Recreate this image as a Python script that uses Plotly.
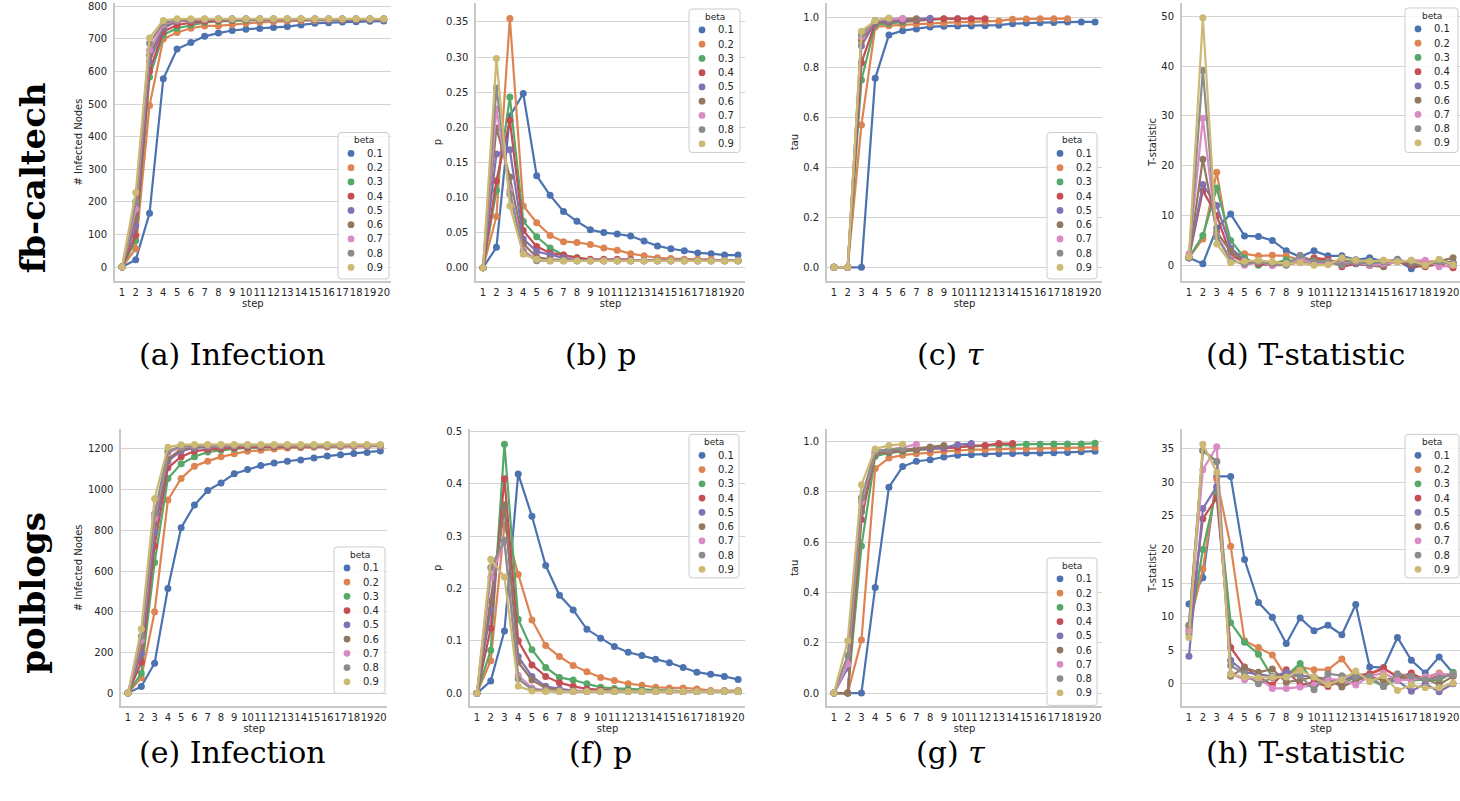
import plotly.graph_objects as go

# ---------------- data ----------------
STEPS = [1, 2, 3, 4, 5, 6, 7, 8, 9, 10, 11, 12, 13, 14, 15, 16, 17, 18, 19, 20]
STEP_LABELS = ["1", "2", "3", "4", "5", "6", "7", "8", "9", "10", "11", "12", "13", "14", "15", "16", "17", "18", "19", "20"]
BETAS = ["0.1", "0.2", "0.3", "0.4", "0.5", "0.6", "0.7", "0.8", "0.9"]
N = None

CALTECH_INFECTION = [
    [0, 22, 165, 578, 669, 689, 708, 718, 726, 730, 732, 735, 738, 743, 748, 750, 752, 753, 754, 755],
    [0, 56, 496, 700, 720, 733, 740, 740, 744, 748, 751, 753, 755, 756, 757, 758, 758, 759, 759, 759],
    [0, 81, 583, 713, 733, 743, 751, 754, 756, 757, 758, 759, 759, 760, 760, 760, 760, 760, 760, 760],
    [0, 97, 601, 723, 743, 750, 754, 757, 758, 759, 760, 760, 760, 760, 760, 760, 760, 760, 760, 760],
    [0, 127, 631, 733, 754, 757, 759, 760, 761, 761, 761, 761, 761, 761, 761, 761, 761, 761, 761, 761],
    [0, 150, 650, 740, 755, 758, 760, 761, 761, 761, 761, 761, 761, 761, 761, 761, 761, 761, 761, 761],
    [0, 178, 665, 745, 757, 759, 760, 761, 761, 761, 761, 761, 761, 761, 761, 761, 761, 761, 761, 761],
    [0, 200, 687, 750, 758, 760, 761, 761, 761, 761, 761, 761, 761, 761, 761, 761, 761, 761, 761, 761],
    [0, 229, 703, 757, 762, 762, 762, 762, 762, 762, 762, 762, 762, 762, 762, 762, 762, 762, 762, 762],
]

CALTECH_P = [
    [0.0, 0.029, 0.216, 0.248, 0.131, 0.103, 0.080, 0.066, 0.054, 0.050, 0.048, 0.045, 0.038, 0.031, 0.027, 0.024, 0.021, 0.020, 0.018, 0.018],
    [0.0, 0.073, 0.355, 0.088, 0.064, 0.046, 0.037, 0.036, 0.033, 0.028, 0.025, 0.020, 0.017, 0.014, 0.013, 0.012, 0.012, 0.012, N, N],
    [0.0, 0.110, 0.243, 0.066, 0.044, 0.028, 0.018, 0.014, 0.011, 0.010, 0.010, 0.010, 0.010, 0.010, 0.010, 0.010, 0.010, 0.010, 0.010, 0.010],
    [0.0, 0.124, 0.210, 0.053, 0.030, 0.021, 0.018, 0.014, 0.012, 0.012, 0.012, 0.012, N, N, N, N, N, N, N, N],
    [0.0, 0.162, 0.168, 0.041, 0.023, 0.018, 0.014, 0.010, 0.010, 0.010, 0.010, 0.010, 0.010, 0.010, 0.010, 0.010, 0.010, 0.010, 0.010, 0.010],
    [0.0, 0.199, 0.129, 0.034, 0.015, 0.012, 0.011, 0.010, 0.010, 0.010, 0.010, 0.010, 0.010, 0.010, 0.010, 0.010, 0.010, 0.010, 0.010, 0.010],
    [0.0, 0.226, 0.110, 0.025, 0.011, 0.010, 0.010, 0.010, 0.010, 0.010, 0.010, 0.010, 0.010, 0.010, 0.010, 0.010, 0.010, 0.010, 0.010, 0.010],
    [0.0, 0.256, 0.105, 0.022, 0.010, 0.010, 0.010, 0.010, 0.010, 0.010, 0.010, 0.010, 0.010, 0.010, 0.010, 0.010, 0.010, 0.010, 0.010, 0.010],
    [0.0, 0.298, 0.088, 0.019, 0.012, 0.0095, 0.0095, 0.0095, 0.0095, 0.0095, 0.0095, 0.0095, 0.0095, 0.0095, 0.0095, 0.0095, 0.0095, 0.0095, 0.0095, 0.0095],
]

CALTECH_TAU = [
    [0, 0, 0, 0.758, 0.932, 0.949, 0.956, 0.964, 0.967, 0.968, 0.968, 0.969, 0.971, 0.977, 0.980, 0.981, 0.982, 0.984, 0.984, 0.984],
    [0, 0, 0.571, 0.964, 0.969, 0.972, 0.976, 0.977, 0.980, 0.983, 0.984, 0.985, 0.988, 0.995, 0.996, 0.997, 0.997, 0.997, N, N],
    [0, 0, 0.751, 0.973, 0.978, 0.983, 0.990, 0.993, 0.996, 0.997, N, N, N, N, N, N, N, N, N, N],
    [0, 0, 0.820, 0.980, 0.985, 0.988, 0.990, 0.993, 0.997, 0.997, 0.997, 0.997, N, N, N, N, N, N, N, N],
    [0, 0, 0.889, 0.983, 0.988, 0.992, 0.995, 0.999, N, N, N, N, N, N, N, N, N, N, N, N],
    [0, 0, 0.910, 0.988, 0.993, 0.997, 0.997, N, N, N, N, N, N, N, N, N, N, N, N, N],
    [0, 0, 0.925, 0.990, 0.996, 0.998, N, N, N, N, N, N, N, N, N, N, N, N, N, N],
    [0, 0, 0.935, 0.990, 0.998, N, N, N, N, N, N, N, N, N, N, N, N, N, N, N],
    [0, 0, 0.947, 0.989, 1.000, N, N, N, N, N, N, N, N, N, N, N, N, N, N, N],
]

CALTECH_T = [
    [1.5, 0.3, 7.5, 10.3, 5.9, 5.8, 5.0, 2.9, 1.7, 2.9, 1.9, 1.9, 1.1, 1.5, 0.8, 1.0, -0.7, 0.3, 1.0, 0.5],
    [1.5, 5.3, 18.7, 2.3, 2.3, 1.9, 2.0, 1.9, 1.0, 1.3, 1.0, 0.7, 1.0, 0.7, 1.0, 0.9, 0.8, 0.7, 0.9, 0.3],
    [1.5, 6.0, 15.5, 5.0, 1.5, 0.0, 0.3, 1.1, 0.7, 0.3, 0.3, 0.7, 1.0, 0.3, 0.7, 0.7, 0.3, 0.0, 1.0, -0.1],
    [1.5, 15.0, 10.0, 2.0, 0.7, 0.3, 0.0, 0.1, 0.7, 1.5, 1.2, -0.3, 0.3, 0.0, 0.5, 0.8, 0.0, -0.3, 0.3, -0.5],
    [1.5, 16.2, 12.0, 3.5, 1.0, 0.7, 0.3, 0.3, 1.2, 0.7, 0.5, 0.8, 0.3, 0.0, 0.5, 1.2, 0.3, 0.0, 0.8, 0.5],
    [1.5, 21.3, 6.7, 2.8, 0.7, 0.8, 0.3, 0.3, 0.7, 1.0, 0.7, 0.7, 0.5, 0.0, -0.3, 1.0, 0.3, -0.1, 0.8, 1.5],
    [2.3, 29.5, 6.0, 1.3, 0.0, 0.7, 0.0, 0.3, 1.3, 0.3, 0.7, 0.3, 0.7, 0.0, 0.3, 0.7, 1.0, 1.0, -0.3, 0.0],
    [1.5, 39.1, 5.7, 1.0, 0.3, 0.7, 0.3, 0.0, 2.0, 0.7, 0.7, 0.0, 0.7, 0.3, 0.7, 1.0, 0.7, 0.0, 0.7, 0.3],
    [1.7, 49.7, 4.3, 0.5, 0.8, 1.0, 0.7, 0.3, 0.5, 0.0, 0.1, 1.5, 1.0, 0.8, 1.0, 0.7, 1.0, 0.0, 1.2, 0.1],
]

POLBLOGS_INFECTION = [
    [0, 33, 147, 514, 813, 924, 996, 1033, 1078, 1099, 1118, 1131, 1140, 1146, 1156, 1165, 1172, 1178, 1183, 1190],
    [0, 75, 400, 949, 1055, 1115, 1140, 1161, 1176, 1189, 1193, 1200, 1205, 1206, 1208, 1210, 1211, 1212, 1213, 1214],
    [0, 98, 642, 1055, 1127, 1162, 1185, 1193, 1200, 1205, 1208, 1210, 1211, 1212, 1213, 1214, 1215, 1215, 1216, 1216],
    [0, 152, 723, 1107, 1162, 1189, 1197, 1202, 1206, 1208, 1210, 1211, 1212, 1213, 1214, 1215, 1215, 1216, 1216, 1216],
    [0, 195, 790, 1140, 1190, 1205, 1210, 1213, 1215, 1216, 1216, 1216, 1216, 1216, 1216, 1216, 1216, 1216, 1216, 1216],
    [0, 230, 830, 1150, 1200, 1210, 1213, 1215, 1216, 1216, 1216, 1216, 1216, 1216, 1216, 1216, 1216, 1216, 1216, 1216],
    [0, 258, 860, 1180, 1210, 1215, 1217, 1217, 1217, 1217, 1217, 1217, 1217, 1217, 1217, 1217, 1217, 1217, 1217, 1217],
    [0, 280, 880, 1190, 1213, 1216, 1218, 1218, 1218, 1218, 1218, 1218, 1218, 1218, 1218, 1218, 1218, 1218, 1218, 1218],
    [0, 315, 955, 1208, 1221, 1222, 1222, 1222, 1222, 1222, 1222, 1222, 1222, 1222, 1222, 1222, 1222, 1222, 1222, 1222],
]

POLBLOGS_P = [
    [0.0, 0.023, 0.119, 0.419, 0.338, 0.244, 0.187, 0.159, 0.122, 0.105, 0.089, 0.078, 0.072, 0.065, 0.058, 0.049, 0.040, 0.036, 0.032, 0.026],
    [0.0, 0.062, 0.322, 0.227, 0.140, 0.091, 0.070, 0.053, 0.041, 0.030, 0.024, 0.018, 0.015, 0.011, 0.010, 0.010, 0.008, 0.005, 0.005, 0.005],
    [0.0, 0.082, 0.476, 0.141, 0.083, 0.049, 0.030, 0.025, 0.018, 0.011, 0.009, 0.008, 0.006, 0.005, 0.004, 0.003, 0.003, 0.003, 0.003, 0.003],
    [0.0, 0.124, 0.410, 0.100, 0.054, 0.032, 0.020, 0.013, 0.008, 0.006, 0.005, 0.004, 0.004, 0.003, 0.003, 0.003, 0.003, 0.003, 0.003, 0.003],
    [0.0, 0.159, 0.357, 0.070, 0.032, 0.013, 0.008, 0.005, 0.004, 0.003, 0.003, 0.003, 0.003, 0.003, 0.003, 0.003, 0.003, 0.003, 0.003, 0.003],
    [0.0, 0.176, 0.360, 0.059, 0.025, 0.010, 0.005, 0.004, 0.003, 0.003, 0.003, 0.003, 0.003, 0.003, 0.003, 0.003, 0.003, 0.003, 0.003, 0.003],
    [0.0, 0.221, 0.290, 0.034, 0.010, 0.005, 0.004, 0.003, 0.003, 0.003, 0.003, 0.003, 0.003, 0.003, 0.003, 0.003, 0.003, 0.003, 0.003, 0.003],
    [0.0, 0.240, 0.292, 0.027, 0.007, 0.004, 0.003, 0.003, 0.003, 0.003, 0.003, 0.003, 0.003, 0.003, 0.003, 0.003, 0.003, 0.003, 0.003, 0.003],
    [0.0, 0.256, 0.222, 0.013, 0.004, 0.003, 0.003, 0.003, 0.003, 0.003, 0.003, 0.003, 0.003, 0.003, 0.003, 0.003, 0.003, 0.003, 0.003, 0.003],
]

POLBLOGS_TAU = [
    [0, 0, 0, 0.420, 0.818, 0.900, 0.921, 0.927, 0.938, 0.945, 0.947, 0.951, 0.951, 0.952, 0.954, 0.954, 0.955, 0.956, 0.959, 0.961],
    [0, 0, 0.211, 0.892, 0.934, 0.945, 0.951, 0.954, 0.960, 0.963, 0.967, 0.967, 0.970, 0.971, 0.971, 0.972, 0.974, 0.974, 0.974, 0.976],
    [0, 0, 0.584, 0.941, 0.954, 0.960, 0.966, 0.970, 0.974, 0.978, 0.980, 0.983, 0.985, 0.985, 0.989, 0.989, 0.990, 0.990, 0.990, 0.992],
    [0, 0, 0.690, 0.950, 0.958, 0.964, 0.968, 0.970, 0.973, 0.976, 0.983, 0.984, 0.991, 0.991, N, N, N, N, N, N],
    [0, 0.10, 0.720, 0.955, 0.960, 0.965, 0.970, 0.972, 0.975, 0.987, 0.991, N, N, N, N, N, N, N, N, N],
    [0, 0, 0.723, 0.950, 0.960, 0.966, 0.971, 0.978, 0.984, N, N, N, N, N, N, N, N, N, N, N],
    [0, 0.116, 0.760, 0.960, 0.967, 0.975, 0.989, N, N, N, N, N, N, N, N, N, N, N, N, N],
    [0, 0.149, 0.776, 0.962, 0.968, 0.972, N, N, N, N, N, N, N, N, N, N, N, N, N, N],
    [0, 0.208, 0.828, 0.970, 0.984, 0.989, N, N, N, N, N, N, N, N, N, N, N, N, N, N],
]

POLBLOGS_T = [
    [11.9, 15.8, 30.9, 30.9, 18.5, 12.1, 9.9, 6.0, 9.8, 7.9, 8.7, 7.3, 11.8, 2.5, 2.4, 6.9, 3.5, 1.6, 4.0, 1.6],
    [8.5, 17.1, 30.5, 20.5, 6.4, 5.4, 4.3, 1.0, 2.5, 2.1, 2.1, 3.7, 1.0, 1.4, 2.2, 1.2, 1.0, 1.0, 1.6, 1.2],
    [7.4, 20.0, 29.2, 9.1, 6.2, 4.4, 1.0, 1.2, 3.0, 0.2, 0.5, 0.0, 1.0, 0.7, -0.4, 0.7, 0.5, 0.6, 0.5, 1.7],
    [7.9, 24.6, 27.7, 5.4, 2.5, 1.0, -0.2, 2.1, -0.2, 0.2, -0.4, 0.5, 1.2, 1.5, 2.4, 0.9, 1.6, 0.5, 1.2, 1.2],
    [4.1, 26.1, 29.4, 3.5, 1.7, 1.4, 1.1, 1.7, 1.2, 1.0, 0.2, 0.7, 1.0, 1.0, 0.6, 0.5, -1.1, 0.0, -1.2, 0.0],
    [8.7, 34.7, 33.1, 1.1, 2.4, 1.7, 2.2, 0.2, 0.6, 1.0, 0.7, -0.5, 0.5, 1.0, 0.5, 1.0, 0.7, 0.7, -0.1, 1.1],
    [7.9, 31.9, 35.3, 1.5, 0.6, 0.9, -0.7, -0.7, -0.5, -0.2, 0.7, 0.6, -0.2, 1.1, 1.6, 0.5, 0.6, 1.0, 1.4, 1.4],
    [8.7, 34.8, 33.1, 2.7, 1.5, 0.0, 0.9, 1.0, 1.2, -0.9, 1.5, 1.2, 1.1, 1.1, -0.4, 1.5, 1.1, 0.6, 0.9, 1.4],
    [6.9, 35.7, 31.5, 1.4, 1.0, 0.9, 1.0, 1.0, 2.0, 1.0, -0.1, 0.6, 1.9, 0.3, 1.2, -1.0, -0.2, -0.6, -0.6, 0.1],
]

Y_TITLES = ["# Infected Nodes", "p", "tau", "T-statistic", "# Infected Nodes", "p", "tau", "T-statistic"]
CAPTIONS = ["(a) Infection", "(b) p", "(c) <i>τ</i>", "(d) T-statistic",
            "(e) Infection", "(f) p", "(g) <i>τ</i>", "(h) T-statistic"]
ROW_LABELS = ["fb-caltech", "polblogs"]

# ---------------- style / layout ----------------
W, H = 1460, 801
COLORS = ["#4C72B0", "#DD8452", "#55A868", "#C44E52", "#8172B3",
          "#937860", "#DA8BC3", "#8C8C8C", "#CCB974"]
GRID = "#d3d3d3"
SPINE = "#c8c8c8"
TXT = "#262626"
FONT = "DejaVu Sans"
SERIF = "DejaVu Serif"

PANELS = [
    dict(data=CALTECH_INFECTION, x=(115.1, 390.6), y=(0, 279), yr=(-42.8, 810.4),
         ticks=[0, 100, 200, 300, 400, 500, 600, 700, 800], fmt="d", leg=(338, 130, 51, 147), cap=(232, 353)),
    dict(data=CALTECH_P, x=(476.3, 744.7), y=(0, 279), yr=(-0.0189, 0.377),
         ticks=[0, 0.05, 0.10, 0.15, 0.20, 0.25, 0.30, 0.35], fmt=".2f", leg=(689, 6, 51, 144), cap=(600, 353)),
    dict(data=CALTECH_TAU, x=(827.1, 1101.9), y=(0, 279), yr=(-0.0547, 1.06),
         ticks=[0, 0.2, 0.4, 0.6, 0.8, 1.0], fmt=".1f", leg=(1047, 130, 50, 147), cap=(950, 353)),
    dict(data=CALTECH_T, x=(1182.0, 1460.0), y=(0, 279), yr=(-3.14, 52.66),
         ticks=[0, 10, 20, 30, 40, 50], fmt="d", leg=(1405, 5, 53, 145), cap=(1305, 353)),
    dict(data=POLBLOGS_INFECTION, x=(121.4, 387.0), y=(428, 706), yr=(-65.1, 1296),
         ticks=[0, 200, 400, 600, 800, 1000, 1200], fmt="d", leg=(334, 546, 51, 147), cap=(232, 752)),
    dict(data=POLBLOGS_P, x=(470.1, 745.0), y=(428, 706), yr=(-0.0253, 0.5042),
         ticks=[0, 0.1, 0.2, 0.3, 0.4, 0.5], fmt=".1f", leg=(689, 433, 50, 144), cap=(600, 752)),
    dict(data=POLBLOGS_TAU, x=(827.1, 1101.9), y=(428, 706), yr=(-0.0526, 1.0475),
         ticks=[0, 0.2, 0.4, 0.6, 0.8, 1.0], fmt=".1f", leg=(1047, 557, 50, 148), cap=(950, 752)),
    dict(data=POLBLOGS_T, x=(1182.0, 1460.0), y=(428, 706), yr=(-3.37, 37.9),
         ticks=[0, 5, 10, 15, 20, 25, 30, 35], fmt="d", leg=(1405, 433, 54, 144), cap=(1305, 752)),
]


def px(xp):
    return xp / W


def py(yp):
    return 1 - yp / H


fig = go.Figure()
shapes = []
annotations = []

for i, p in enumerate(PANELS):
    k = "" if i == 0 else str(i + 1)
    xa, ya = "x" + k, "y" + k
    for j, series in enumerate(p["data"]):
        fig.add_trace(go.Scatter(
            x=STEPS, y=series, mode="lines+markers", name=BETAS[j],
            line=dict(color=COLORS[j], width=2.2),
            marker=dict(color=COLORS[j], size=7),
            xaxis=xa, yaxis=ya, showlegend=False, connectgaps=False,
        ))
    fig.layout["xaxis" + k] = dict(
        domain=[px(p["x"][0]), px(p["x"][1])], range=[0.5, 20.5], anchor=ya,
        tickmode="array", tickvals=STEPS, ticktext=STEP_LABELS, tickangle=0,
        showgrid=False, zeroline=False, showline=True, linecolor=SPINE, linewidth=2,
        ticks="", tickfont=dict(family=FONT, size=10, color=TXT), ticklabelstandoff=1,
        title=dict(text="step", font=dict(family=FONT, size=10, color=TXT), standoff=0),
    )
    fig.layout["yaxis" + k] = dict(
        domain=[py(p["y"][1]), py(p["y"][0])], range=list(p["yr"]), anchor=xa,
        tickmode="array", tickvals=p["ticks"], tickformat=p["fmt"],
        showgrid=True, gridcolor=GRID, gridwidth=1.4, zeroline=False,
        showline=True, linecolor=SPINE, linewidth=2,
        ticks="", tickfont=dict(family=FONT, size=10, color=TXT), ticklabelstandoff=4,
        title=dict(text=Y_TITLES[i], font=dict(family=FONT, size=10, color=TXT), standoff=3),
    )

    # legend box (seaborn style)
    bx, by, bw, bh = p["leg"]
    r = 3
    x0, x1, y0, y1 = bx, bx + bw, by, by + bh
    pts = [("M", x0 + r, y0), ("L", x1 - r, y0), ("Q", x1, y0, x1, y0 + r), ("L", x1, y1 - r),
           ("Q", x1, y1, x1 - r, y1), ("L", x0 + r, y1), ("Q", x0, y1, x0, y1 - r),
           ("L", x0, y0 + r), ("Q", x0, y0, x0 + r, y0)]
    path = ""
    for cmd in pts:
        c = cmd[0]
        coords = cmd[1:]
        seg = []
        for m in range(0, len(coords), 2):
            seg.append("%.6f,%.6f" % (px(coords[m]), py(coords[m + 1])))
        path += c + " " + " ".join(seg) + " "
    path += "Z"
    shapes.append(dict(type="path", path=path, xref="paper", yref="paper",
                       fillcolor="rgba(255,255,255,0.85)", line=dict(color="#cccccc", width=1),
                       layer="above"))
    annotations.append(dict(text="beta", x=px(bx + bw / 2), y=py(by + 8), xref="paper", yref="paper",
                            showarrow=False, xanchor="center", yanchor="middle",
                            font=dict(family=FONT, size=9, color=TXT)))
    for j, b in enumerate(BETAS):
        cy = by + 21 + 14.3 * j
        cx = bx + 13
        shapes.append(dict(type="circle", xref="paper", yref="paper",
                           x0=px(cx - 3.4), x1=px(cx + 3.4), y0=py(cy + 3.4), y1=py(cy - 3.4),
                           fillcolor=COLORS[j], line=dict(width=0), layer="above"))
        annotations.append(dict(text=b, x=px(bx + 27), y=py(cy), xref="paper", yref="paper",
                                showarrow=False, xanchor="left", yanchor="middle",
                                font=dict(family=FONT, size=10, color=TXT)))

    # caption
    annotations.append(dict(text=CAPTIONS[i], x=px(p["cap"][0]), y=py(p["cap"][1]),
                            xref="paper", yref="paper", showarrow=False,
                            xanchor="center", yanchor="middle",
                            font=dict(family=SERIF, size=30, color="#000000")))

# row labels
for lbl, cy in zip(ROW_LABELS, [176, 592]):
    annotations.append(dict(text="<b>" + lbl + "</b>", x=px(33), y=py(cy), xref="paper", yref="paper",
                            showarrow=False, textangle=-90, xanchor="center", yanchor="middle",
                            font=dict(family=SERIF, size=34, color="#000000")))

fig.update_layout(
    width=W, height=H, margin=dict(l=0, r=0, t=0, b=0),
    paper_bgcolor="white", plot_bgcolor="white",
    shapes=shapes, annotations=annotations, showlegend=False,
    font=dict(family=FONT, color=TXT),
)

fig.write_html("out.html", config={"displayModeBar": False},
               post_script="document.body.style.margin='0px';document.body.style.overflow='hidden';")
